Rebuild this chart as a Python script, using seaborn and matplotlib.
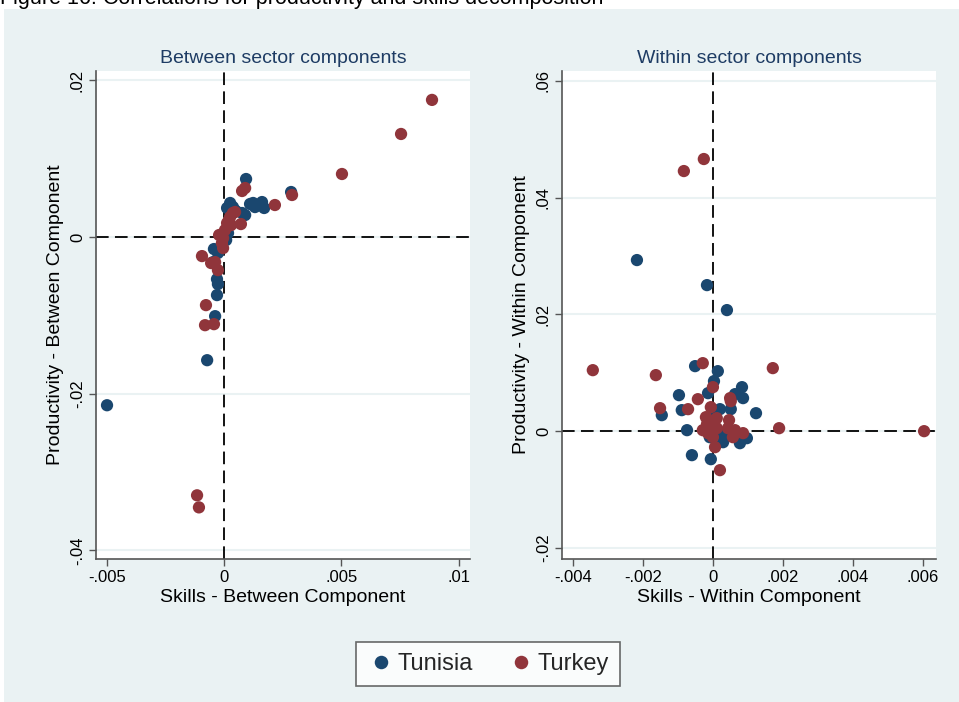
import numpy as np
import pandas as pd
import matplotlib
matplotlib.use("Agg")
import matplotlib.pyplot as plt
from matplotlib.patches import Rectangle
import seaborn as sns

# ---------------- data ----------------
countries = ["Tunisia", "Turkey"]

tunisia_between_skills = [-0.00499, -0.00072, -0.00038, -0.00030, -0.00026, -0.00030, -0.00043,
                          -0.00026, 0.00094, 0.00286, 0.00111, 0.00124, 0.00145, 0.00162,
                          0.00132, 0.00171, 0.00026, 0.00013, 0.00038, 0.00077, 0.00090,
                          0.00017, 0.00009, -0.00009, 0.00051, -0.00047]
tunisia_between_prod = [-0.02147, -0.01572, -0.01010, -0.00741, -0.00601, -0.00537, -0.00153,
                        -0.00204, 0.00741, 0.00575, 0.00422, 0.00435, 0.00409, 0.00447,
                        0.00383, 0.00371, 0.00435, 0.00371, 0.00383, 0.00307, 0.00281,
                        0.00051, -0.00038, -0.00102, 0.00332, -0.00320]

turkey_between_skills = [0.00887, 0.00755, 0.00503, 0.00290, 0.00217, 0.00072, 0.00077, 0.00090,
                         0.00038, 0.00026, 0.00013, 0.00004, -0.00004, -0.00009, -0.00004,
                         0.00047, 0.00021, -0.00094, -0.00038, -0.00055, -0.00026, -0.00077,
                         -0.00081, -0.00043, -0.00115, -0.00107, 0.00030, -0.00021]
turkey_between_prod = [0.01751, 0.01316, 0.00805, 0.00537, 0.00409, 0.00166, 0.00588, 0.00626,
                       0.00307, 0.00256, 0.00179, 0.00089, -0.00013, -0.00077, -0.00141,
                       0.00320, 0.00217, -0.00243, -0.00320, -0.00332, -0.00422, -0.00869,
                       -0.01125, -0.01112, -0.03297, -0.03451, 0.00153, 0.00026]

tunisia_within_skills = [-0.00217, -0.00017, 0.00040, -0.00051, 0.00014, 0.00003, 0.00083, 0.00086,
                         0.00063, -0.00097, -0.00014, 0.00123, -0.00146, -0.00089, 0.00051,
                         0.00020, -0.00074, -0.00060, -0.00006, 0.00077, 0.00097, 0.00029,
                         0.00029, -0.00009, 0.00040, 0.00009]
tunisia_within_prod = [0.02931, 0.02502, 0.02074, 0.01114, 0.01028, 0.00857, 0.00754, 0.00566,
                       0.00634, 0.00617, 0.00651, 0.00308, 0.00274, 0.00360, 0.00377,
                       0.00377, 0.00017, -0.00411, -0.00480, -0.00206, -0.00120, -0.00189,
                       -0.00069, -0.00103, 0.0, 0.00326]

turkey_within_skills = [-0.00026, -0.00083, -0.00343, -0.00163, -0.00029, 0.00171, 0.0, -0.00043,
                        0.00049, -0.00151, -0.00071, -0.00006, 0.00011, -0.00020, 0.00046,
                        0.00189, 0.00603, -0.00029, -0.00014, 0.0, 0.00006, 0.00020,
                        0.00043, 0.00063, 0.00057, 0.00086, -0.00017, 0.00011, -0.00003, 0.00051]
turkey_within_prod = [0.04662, 0.04456, 0.01045, 0.00960, 0.01165, 0.01080, 0.00754, 0.00548,
                      0.00566, 0.00394, 0.00377, 0.00411, 0.00223, 0.00240, 0.00189,
                      0.00051, 0.0, 0.00017, -0.00034, -0.00103, -0.00274, -0.00668,
                      0.00051, 0.00017, -0.00103, -0.00034, 0.00120, 0.00051, 0.00171, 0.00514]

left_xticks = [-0.005, 0, 0.005, 0.01]
left_xticklabels = ["-.005", "0", ".005", ".01"]
left_yticks = [-0.04, -0.02, 0, 0.02]
left_yticklabels = ["-.04", "-.02", "0", ".02"]
right_xticks = [-0.004, -0.002, 0, 0.002, 0.004, 0.006]
right_xticklabels = ["-.004", "-.002", "0", ".002", ".004", ".006"]
right_yticks = [-0.02, 0, 0.02, 0.04, 0.06]
right_yticklabels = ["-.02", "0", ".02", ".04", ".06"]

df_between = pd.DataFrame({
    "skills": tunisia_between_skills + turkey_between_skills,
    "prod": tunisia_between_prod + turkey_between_prod,
    "country": ["Tunisia"] * len(tunisia_between_skills) + ["Turkey"] * len(turkey_between_skills),
})
df_within = pd.DataFrame({
    "skills": tunisia_within_skills + turkey_within_skills,
    "prod": tunisia_within_prod + turkey_within_prod,
    "country": ["Tunisia"] * len(tunisia_within_skills) + ["Turkey"] * len(turkey_within_skills),
})

# ---------------- style ----------------
sns.set_theme(style="white")
plt.rcParams["font.family"] = ["Liberation Sans", "DejaVu Sans"]

palette = {"Tunisia": "#1a476f", "Turkey": "#90353b"}
BG = "#eaf2f3"
W, H = 959, 702

fig = plt.figure(figsize=(W / 100, H / 100), dpi=100)
fig.patch.set_facecolor("white")
fig.patches.append(Rectangle((4 / W, 0), 1 - 4 / W, 1 - 9 / H, transform=fig.transFigure,
                             facecolor=BG, edgecolor="none", zorder=-10))
fig.text(0.0, 1 - 4 / H, "Figure 16: Correlations for productivity and skills decomposition",
         fontsize=15.5, ha="left", va="baseline", color="black")


def px_axes(x0, x1, y0, y1):
    return fig.add_axes([x0 / W, 1 - y1 / H, (x1 - x0) / W, (y1 - y0) / H])


axL = px_axes(96, 470, 71, 559)
axR = px_axes(562, 936, 71, 559)

panels = [
    (axL, df_between, "Between sector components", "Skills - Between Component",
     "Productivity - Between Component", (-0.00546, 0.01049), (-0.0411, 0.0212),
     left_xticks, left_xticklabels, left_yticks, left_yticklabels),
    (axR, df_within, "Within sector components", "Skills - Within Component",
     "Productivity - Within Component", (-0.00431, 0.00637), (-0.0219, 0.0617),
     right_xticks, right_xticklabels, right_yticks, right_yticklabels),
]

for (ax, df, title, xlabel, ylabel, xlim, ylim, xt, xtl, yt, ytl) in panels:
    ax.set_facecolor("white")
    for yv in yt:
        ax.axhline(yv, color=BG, lw=1.5, zorder=0)
    ax.axhline(0, color="black", lw=1.3, ls=(0, (7, 3.5)), zorder=1)
    ax.axvline(0, color="black", lw=1.3, ls=(0, (7, 3.5)), zorder=1)
    sns.scatterplot(data=df, x="skills", y="prod", hue="country", hue_order=countries,
                    palette=palette, s=78, linewidth=0, alpha=1, ax=ax, legend=True, zorder=3)
    ax.set_xlim(*xlim)
    ax.set_ylim(*ylim)
    ax.set_xticks(xt)
    ax.set_xticklabels(xtl)
    ax.set_yticks(yt)
    ax.set_yticklabels(ytl, rotation=90, va="center")
    ax.tick_params(axis="both", direction="out", length=5, width=1, color="#555555",
                   labelsize=12, pad=3, left=True, bottom=True, labelcolor="black")
    for side in ["top", "right"]:
        ax.spines[side].set_visible(False)
    for side in ["left", "bottom"]:
        ax.spines[side].set_color("#555555")
        ax.spines[side].set_linewidth(1.2)
    ax.set_title(title, fontsize=14, color="#1e3c64", pad=6)
    ax.set_xlabel(xlabel, fontsize=14, labelpad=3, color="black")
    ax.set_ylabel(ylabel, fontsize=14, labelpad=4, color="black")

handles, labels = axL.get_legend_handles_labels()
for ax in (axL, axR):
    if ax.get_legend() is not None:
        ax.get_legend().remove()

leg = fig.legend(handles, labels, loc="center", bbox_to_anchor=(488 / W, 1 - 664 / H),
                 ncol=2, frameon=True, fancybox=False, fontsize=17, handletextpad=0.1,
                 columnspacing=1.45, borderpad=0.45, handlelength=1.2, markerscale=1.1)
leg.get_frame().set_edgecolor("#444444")
leg.get_frame().set_linewidth(1.2)
leg.get_frame().set_facecolor("white")

fig.savefig("out.png", dpi=100, facecolor=fig.get_facecolor())
